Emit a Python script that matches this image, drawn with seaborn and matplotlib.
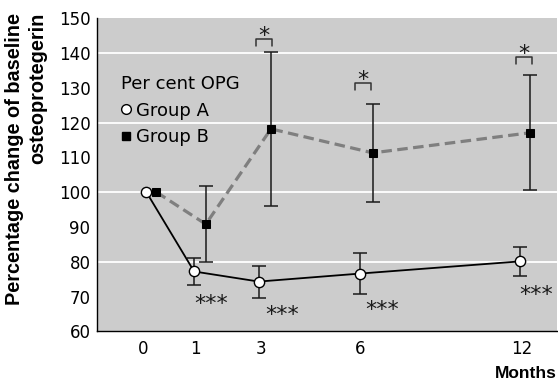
import matplotlib
matplotlib.use("Agg")
import matplotlib.pyplot as plt
import seaborn as sns
import numpy as np
from matplotlib.lines import Line2D

# ---- data ----
months = [0, 1, 3, 6, 12]
month_labels = ["0", "1", "3", "6", "12"]
group_a = [100, 77.2, 74.3, 76.6, 80.1]
group_a_err = [0, 4.0, 4.6, 5.9, 4.1]
group_b = [100, 90.8, 118.2, 111.3, 117.1]
group_b_err = [0, 10.9, 22.1, 14.2, 16.5]
sig_a_months = [1, 3, 6, 12]          # *** below group A
sig_ab_months = [3, 6, 12]            # * between groups
yticks = [60, 70, 80, 90, 100, 110, 120, 130, 140, 150]
gridlines = [80, 100, 120, 140]

# ---- layout (uneven month spacing on the original axis) ----
x_pos = [0, 1, 2.23, 4.11, 7.145]
off_a = [0.07, -0.03, -0.04, -0.01, -0.03]
off_b = [0.26, 0.19, 0.19, 0.23, 0.17]
pos = dict(zip(months, x_pos))
xa = [p + o for p, o in zip(x_pos, off_a)]
xb = [p + o for p, o in zip(x_pos, off_b)]
sig_a_y = {1: 69.5, 3: 66.4, 6: 67.9, 12: 72.1}
sig_a_dx = {1: 0.30, 3: 0.41, 6: 0.41, 12: 0.27}
brk_top = {3: 144.1, 6: 131.3, 12: 139.0}

sns.set_style("white")
plt.rcParams['font.family'] = ['DejaVu Sans']
plt.rcParams['text.color'] = 'black'
plt.rcParams['xtick.color'] = 'black'
plt.rcParams['ytick.color'] = 'black'
plt.rcParams['axes.labelcolor'] = 'black'

fig = plt.figure(figsize=(5.58, 3.82), dpi=100)
ax = fig.add_axes([96.7/558, 1-331.3/382, (556.7-96.7)/558, (331.3-18.3)/382])
ax.set_facecolor("#cccccc")

for g in gridlines:
    ax.axhline(g, color="white", lw=1.3, zorder=0.5)

# error bars
ax.errorbar(xb[1:], group_b[1:], yerr=group_b_err[1:], fmt='none', ecolor="#1a1a1a",
            elinewidth=1.1, capsize=5.3, capthick=1.1, zorder=2)
ax.errorbar(xa[1:], group_a[1:], yerr=group_a_err[1:], fmt='none', ecolor="#1a1a1a",
            elinewidth=1.1, capsize=4.8, capthick=1.1, zorder=2)

sns.lineplot(x=xb, y=group_b, ax=ax, color="#7f7f7f", lw=2.3, linestyle=(0, (3.3, 1.7)),
             marker='s', markersize=6.0, markerfacecolor='black', markeredgecolor='black',
             zorder=3, sort=False)
sns.lineplot(x=xa, y=group_a, ax=ax, color="black", lw=1.3,
             marker='o', markersize=7.4, markerfacecolor='white', markeredgecolor='black',
             markeredgewidth=1.0, zorder=4, sort=False)

# significance
for m in sig_a_months:
    ax.text(pos[m] + sig_a_dx[m], sig_a_y[m] - 3.4, "***", ha='center', va='baseline',
            fontsize=16, color="#1a1a1a")
for m in sig_ab_months:
    x0 = pos[m] - 0.1
    x1 = pos[m] + 0.2
    t = brk_top[m]
    ax.plot([x0, x0, x1, x1], [t - 2, t, t, t - 2], color="#333333", lw=1.1, zorder=3)
    ax.text((x0 + x1) / 2, t + 2.5 - 3.4, "*", ha='center', va='baseline',
            fontsize=16, color="#1a1a1a")

ax.set_xlim(-0.868, 7.81)
ax.set_ylim(60, 150)
ax.set_yticks(yticks)
ax.set_xticks(x_pos)
ax.set_xticklabels(month_labels)
ax.tick_params(axis='both', direction='in', length=5.5, width=1, color='black',
               labelsize=12, labelcolor='black')
ax.tick_params(axis='y', pad=4.5)
ax.tick_params(axis='x', pad=6.5)
for s in ['top', 'right']:
    ax.spines[s].set_visible(False)
for s in ['left', 'bottom']:
    ax.spines[s].set_visible(True)
    ax.spines[s].set_color('black')
    ax.spines[s].set_linewidth(1.0)
ax.set_xlabel("")
ax.set_ylabel("")

handles = [Line2D([], [], marker='o', ls='none', markersize=7.0, markerfacecolor='white',
                  markeredgecolor='black'),
           Line2D([], [], marker='s', ls='none', markersize=5.8, markerfacecolor='black',
                  markeredgecolor='black')]
bp = 0.36
leg = ax.legend(handles, ["Group A", "Group B"], title="Per cent OPG", loc='upper left',
                bbox_to_anchor=((121 - bp*18)/558, 1-(75 - bp*18)/382),
                bbox_transform=fig.transFigure,
                frameon=False, fontsize=13, title_fontsize=13, handlelength=0.55,
                handletextpad=0.3, labelspacing=0.48, borderpad=bp, borderaxespad=0,
                alignment='left')

lab_font = ['Liberation Sans', 'DejaVu Sans']
fig.text(14.3/558, 1-13/382, "Percentage change of baseline", rotation=90, ha='center',
         va='top', fontsize=14.3, fontweight='bold', family=lab_font, color='black')
fig.text(37.5/558, 1-13/382, "osteoprotegerin", rotation=90, ha='center',
         va='top', fontsize=14.3, fontweight='bold', family=lab_font, color='black')
fig.text(557/558, 4/382, "Months", ha='right', va='baseline', fontsize=12.5,
         fontweight='bold', family=lab_font, color='black')

fig.savefig("out.png", dpi=100)
